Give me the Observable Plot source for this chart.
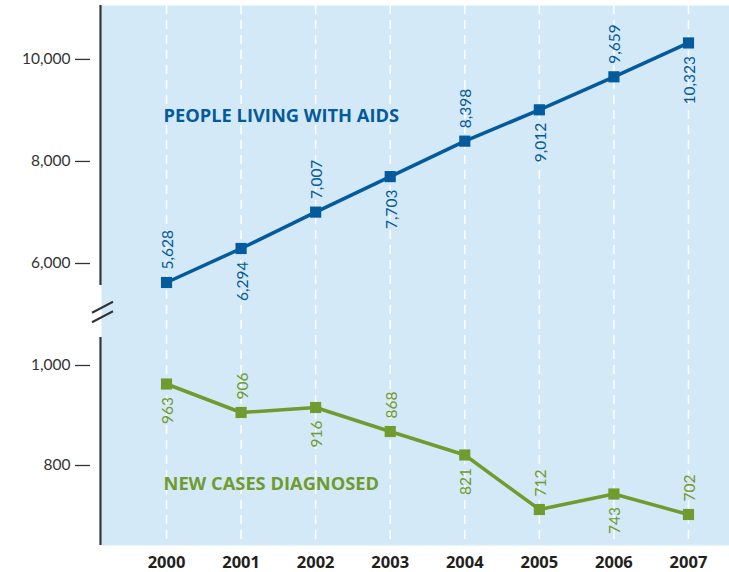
<!DOCTYPE html>
<html>
<head>
<meta charset="utf-8">
<script src="https://cdn.jsdelivr.net/npm/d3@7"></script>
<script src="https://cdn.jsdelivr.net/npm/@observablehq/plot@0.6"></script>
<style>
  body { margin: 0; background: #fff; }
</style>
</head>
<body>
<div id="chart"></div>
<script>
// ---- Data ----
const years = [2000, 2001, 2002, 2003, 2004, 2005, 2006, 2007];
const livingWithAids = [5628, 6294, 7007, 7703, 8398, 9012, 9659, 10323];
const newCases = [963, 906, 916, 868, 821, 712, 743, 702];
const livingLabelSide = ["above", "below", "above", "below", "above", "below", "above", "below"];
const newCasesLabelSide = ["below", "above", "below", "above", "below", "above", "below", "above"];
const upperTicks = [6000, 8000, 10000];
const lowerTicks = [800, 1000];
const seriesNames = ["PEOPLE LIVING WITH AIDS", "NEW CASES DIAGNOSED"];
const seriesLabelValues = [8896, 762]; // value (in each series' own units) where the series name sits
const colors = ["#035a9c", "#6f9b2f"];

// ---- Broken axis: lower panel in raw units, upper panel compressed ----
const BREAK_BASE = 6000, BREAK_OFFSET = 1204, UPPER_RATIO = 9.8;
const toAxis = (v, upper) => upper ? BREAK_OFFSET + (v - BREAK_BASE) / UPPER_RATIO : v;
const fromAxis = a => a > 1100 ? Math.round(BREAK_BASE + (a - BREAK_OFFSET) * UPPER_RATIO) : a;
const yDomain = [640, 1720];
const xDomain = [1999.128, 2007.55];
const axisUpperBottom = 5570; // upper units
const axisLowerTop = 1056;    // lower units
const breakCenter = 1106;     // axis units

const upperData = years.map((year, i) => ({year, value: livingWithAids[i], side: livingLabelSide[i], a: toAxis(livingWithAids[i], true)}));
const lowerData = years.map((year, i) => ({year, value: newCases[i], side: newCasesLabelSide[i], a: toAxis(newCases[i], false)}));
const series = [
  {name: seriesNames[0], data: upperData, color: colors[0], a: toAxis(seriesLabelValues[0], true)},
  {name: seriesNames[1], data: lowerData, color: colors[1], a: toAxis(seriesLabelValues[1], false)}
];
const yTicks = [...lowerTicks.map(v => toAxis(v, false)), ...upperTicks.map(v => toAxis(v, true))];

const fmt = d3.format(",");
const boldFont = "'Open Sans', Lato, sans-serif";

const marks = [
  Plot.frame({fill: "#d4e9f7", stroke: "none"}),
  Plot.ruleX(years, {stroke: "white", strokeWidth: 1.5, strokeDasharray: "9,6"}),
  // axis line segments
  Plot.ruleX([
    {y1: yDomain[1], y2: toAxis(axisUpperBottom, true)},
    {y1: toAxis(axisLowerTop, false), y2: yDomain[0]}
  ], {x: () => xDomain[0], y1: "y1", y2: "y2", dx: -1, stroke: "#333", strokeWidth: 2.2}),
  // break marks
  (index, scales) => {
    const cx = scales.x(xDomain[0]) + 1.5;
    const cy = scales.y(breakCenter);
    const g = d3.create("svg:g").attr("stroke", "#333").attr("stroke-width", 2);
    for (const off of [-4.75, 4.75]) {
      g.append("line")
        .attr("x1", cx - 10.5).attr("y1", cy + off + 5.5)
        .attr("x2", cx + 10.5).attr("y2", cy + off - 5.5);
    }
    return g.node();
  },
  Plot.axisY(yTicks, {
    tickFormat: a => fmt(fromAxis(a)),
    tickSize: 15, tickPadding: 5, dx: -11,
    stroke: "#333", strokeWidth: 1.3, fill: "#333", label: null, fontSize: 15.5
  }),
  Plot.axisX(years, {
    tickFormat: d => String(d), tickSize: 0, tickPadding: 11,
    fontWeight: "bold", fill: "#231f20", label: null, fontFamily: boldFont, fontSize: 16.5
  })
];

for (const s of series) {
  marks.push(
    Plot.line(s.data, {x: "year", y: "a", stroke: s.color, strokeWidth: 3.5}),
    Plot.dot(s.data, {x: "year", y: "a", symbol: "square", r: 6.3, fill: s.color, stroke: "none"}),
    Plot.text(s.data.filter(d => d.side === "above"), {
      x: "year", y: "a", text: d => fmt(d.value), rotate: -90, textAnchor: "start",
      dy: -13, dx: 1.5, fill: s.color, fontSize: 15.5
    }),
    Plot.text(s.data.filter(d => d.side === "below"), {
      x: "year", y: "a", text: d => fmt(d.value), rotate: -90, textAnchor: "end",
      dy: 13, dx: 1.5, fill: s.color, fontSize: 15.5
    }),
    Plot.text([s], {
      x: () => years[0], y: "a", text: "name", textAnchor: "start", dx: -3,
      fill: s.color, fontWeight: "bold", fontSize: 18.3, fontFamily: boldFont
    })
  );
}

const chart = Plot.plot({
  width: 729,
  height: 572,
  marginTop: 5,
  marginBottom: 27,
  marginLeft: 101,
  marginRight: 0,
  x: {type: "linear", domain: xDomain},
  y: {type: "linear", domain: yDomain},
  style: {fontFamily: "Lato, 'Open Sans', sans-serif", fontSize: "15px", background: "white", overflow: "visible"},
  marks
});
document.getElementById("chart").appendChild(chart);
</script>
</body>
</html>
